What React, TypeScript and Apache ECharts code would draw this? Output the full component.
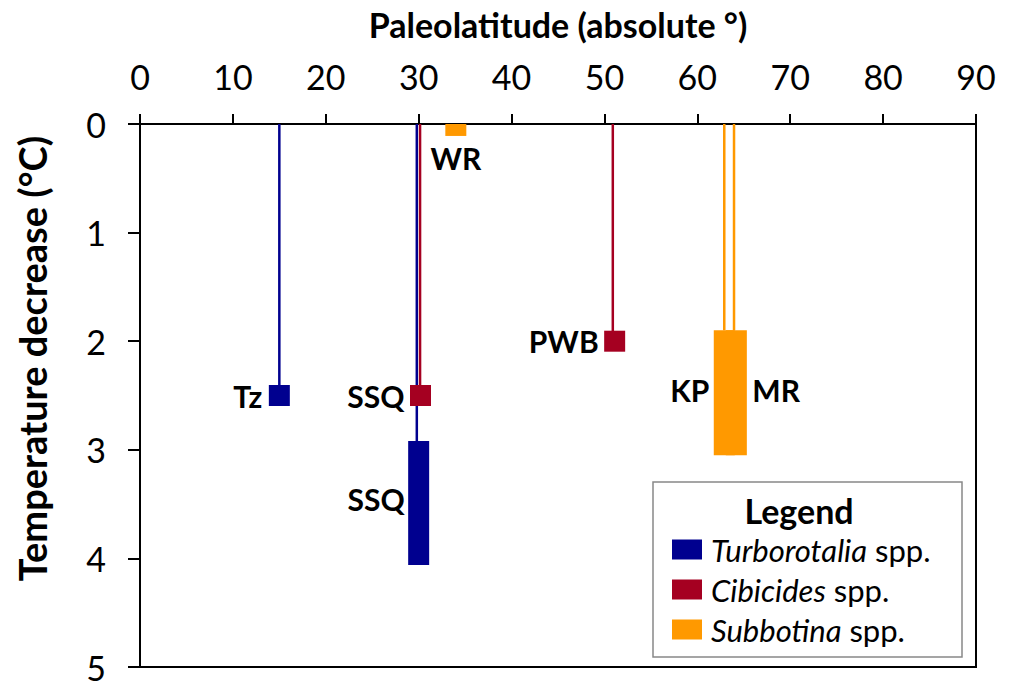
import React, { useEffect, useRef } from "react";
import * as echarts from "echarts";

// ---- data ----
const speciesNames = ["Turborotalia spp.", "Cibicides spp.", "Subbotina spp."];
const speciesGenus = ["Turborotalia", "Cibicides", "Subbotina"];
const speciesColors = ["#00008F", "#A50021", "#FF9900"];

// stems: [paleolatitude, from, to]
const turboStems = [[15, 0, 2.5], [29.8, 0, 2.92]];
const cibStems = [[30.15, 0, 2.5], [50.9, 0, 2]];
const subStems = [[62.9, 0, 1.9], [63.95, 0, 1.9]];

// single-value estimates: [paleolatitude, temperature decrease]
const turboPoints = [[15, 2.5]];
const cibPoints = [[30.2, 2.5], [51.1, 2]];

// range estimates: [paleolatitude, min, max]
const turboRanges = [[30, 2.92, 4.06]];
const subRanges = [[34, 0, 0.11], [62.9, 1.9, 3.05], [64.2, 1.9, 3.05]];

// site labels
const siteLabels = ["Tz", "SSQ", "SSQ", "WR", "PWB", "KP", "MR"];
const labelAnchors = [[15, 2.5], [30.2, 2.5], [30, 3.45], [34, 0.11], [51.1, 2], [62.9, 2.45], [64.2, 2.45]];
// pixel offsets / alignment (style)
const labelStyle: [number, number, string][] = [
  [-17, 0, "right"],
  [-16, 0, "right"],
  [-14, 0, "right"],
  [0, 22, "center"],
  [-16, 0, "right"],
  [-15, 0, "right"],
  [16, 0, "left"],
];

const FONT = "Lato, 'Noto Sans', sans-serif";

function stemSeries(name: string, color: string, data: number[][], width: number) {
  return {
    type: "custom",
    name,
    z: 2,
    itemStyle: { color },
    data,
    renderItem: (params: any, api: any) => {
      const a = api.coord([api.value(0), api.value(1)]);
      const b = api.coord([api.value(0), api.value(2)]);
      return {
        type: "line",
        shape: { x1: a[0], y1: a[1], x2: b[0], y2: b[1] },
        style: { stroke: color, lineWidth: width },
      };
    },
  };
}

function rangeSeries(name: string, color: string, data: number[][]) {
  return {
    type: "custom",
    name,
    z: 3,
    itemStyle: { color },
    data,
    renderItem: (params: any, api: any) => {
      const a = api.coord([api.value(0), api.value(1)]);
      const b = api.coord([api.value(0), api.value(2)]);
      const w = 21;
      return {
        type: "rect",
        shape: { x: a[0] - w / 2, y: a[1], width: w, height: b[1] - a[1] },
        style: { fill: color },
      };
    },
  };
}

function pointSeries(name: string, color: string, data: number[][]) {
  return {
    type: "scatter",
    name,
    z: 4,
    symbol: "rect",
    symbolSize: 21,
    itemStyle: { color, opacity: 1 },
    data,
  };
}

export default function App() {
  const ref = useRef<HTMLDivElement>(null);
  useEffect(() => {
    if (!ref.current) return;
    const chart = echarts.init(ref.current, undefined, { renderer: "svg" });
    const labelData = labelAnchors.map((p, i) => [p[0], p[1], i]);
    chart.setOption({
      animation: false,
      backgroundColor: "#ffffff",
      grid: {
        left: 140,
        top: 124,
        right: 34,
        bottom: 14,
        show: true,
        borderColor: "#000",
        borderWidth: 2,
        backgroundColor: "transparent",
        containLabel: false,
        outerBoundsMode: "none",
      },
      xAxis: {
        type: "value",
        position: "top",
        min: 0,
        max: 90,
        interval: 10,
        name: "Paleolatitude (absolute °)",
        nameLocation: "middle",
        nameGap: 83,
        nameTextStyle: { fontFamily: FONT, fontSize: 34, fontWeight: "bold", color: "#000" },
        axisLine: { show: true, lineStyle: { color: "#000", width: 2 } },
        axisTick: { show: true, length: 10, lineStyle: { color: "#000", width: 2 } },
        axisLabel: { fontFamily: FONT, fontSize: 34, color: "#000", margin: 31 },
        splitLine: { show: false },
      },
      yAxis: {
        type: "value",
        inverse: true,
        min: 0,
        max: 5,
        interval: 1,
        name: "Temperature decrease (°C)",
        nameLocation: "middle",
        nameGap: 89,
        nameRotate: 90,
        nameTextStyle: {
          fontFamily: FONT,
          fontSize: 38,
          fontWeight: "bold",
          color: "#000",
          padding: [0, 0, 0, 74],
        },
        axisLine: { show: true, lineStyle: { color: "#000", width: 2 } },
        axisTick: { show: true, length: 12, lineStyle: { color: "#000", width: 2 } },
        axisLabel: { fontFamily: FONT, fontSize: 34, color: "#000", margin: 34 },
        splitLine: { show: false },
      },
      legend: {
        data: speciesNames.map((n) => ({ name: n, icon: "rect" })),
        orient: "vertical",
        left: 667,
        top: 529,
        itemWidth: 30,
        itemHeight: 20,
        itemGap: 9,
        selectedMode: false,
        formatter: (name: string) => {
          const i = speciesNames.indexOf(name);
          return `{i|${speciesGenus[i]}}{n| spp.}`;
        },
        textStyle: {
          fontFamily: FONT,
          fontSize: 31,
          lineHeight: 30,
          color: "#000",
          padding: [0, 0, 0, 4],
          rich: {
            i: { fontFamily: FONT, fontSize: 31, lineHeight: 30, fontStyle: "italic", color: "#000" },
            n: { fontFamily: FONT, fontSize: 31, lineHeight: 30, color: "#000" },
          },
        },
      },
      graphic: [
        {
          type: "rect",
          z: 0,
          shape: { x: 653, y: 482, width: 309, height: 175 },
          style: { fill: "#fff", stroke: "#888", lineWidth: 1.5 },
        },
        {
          type: "text",
          z: 1,
          x: 799,
          y: 510,
          style: {
            text: "Legend",
            fontFamily: FONT,
            fontSize: 34,
            fontWeight: "bold",
            fill: "#000",
            align: "center",
            verticalAlign: "middle",
          },
        },
      ],
      series: [
        stemSeries(speciesNames[0], speciesColors[0], turboStems, 2.5),
        stemSeries(speciesNames[1], speciesColors[1], cibStems, 2.5),
        stemSeries(speciesNames[2], speciesColors[2], subStems, 2.5),
        rangeSeries(speciesNames[0], speciesColors[0], turboRanges),
        rangeSeries(speciesNames[2], speciesColors[2], subRanges),
        pointSeries(speciesNames[0], speciesColors[0], turboPoints),
        pointSeries(speciesNames[1], speciesColors[1], cibPoints),
        {
          type: "custom",
          name: "labels",
          z: 5,
          data: labelData,
          renderItem: (params: any, api: any) => {
            const i = api.value(2);
            const c = api.coord([api.value(0), api.value(1)]);
            const s = labelStyle[i];
            return {
              type: "text",
              x: c[0] + s[0],
              y: c[1] + s[1],
              style: {
                text: siteLabels[i],
                fontFamily: FONT,
                fontSize: 30,
                fontWeight: "bold",
                fill: "#000",
                align: s[2],
                verticalAlign: "middle",
              },
            };
          },
        },
      ],
    });
    return () => chart.dispose();
  }, []);
  return (
    <div
      ref={ref}
      style={{ position: "fixed", left: 0, top: 0, width: 1010, height: 681 }}
    />
  );
}
